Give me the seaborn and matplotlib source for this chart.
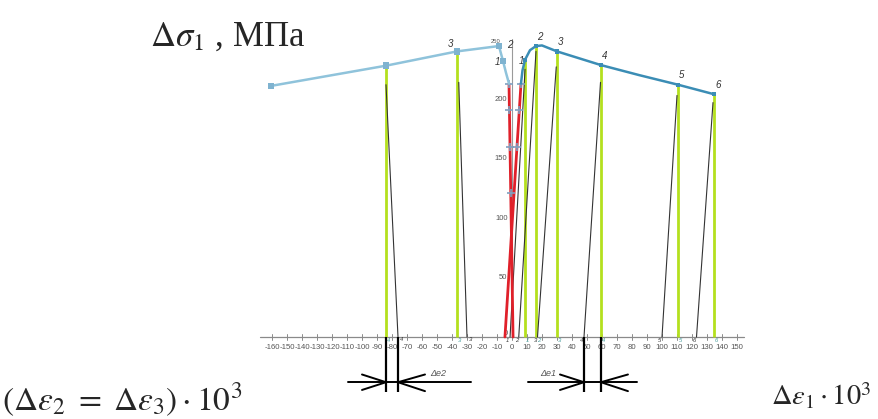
import numpy as np
import matplotlib
matplotlib.use("Agg")
import matplotlib.pyplot as plt
import seaborn as sns

# ---------------- data ----------------
# left branch of the loading curve: (Δε2=Δε3)·10^3 vs Δσ1
left_x = [-160.7, -84.0, -36.7, -8.7, -6.0, -4.0, -2.0]
left_y = [211, 228, 240, 244.5, 232, 222, 213]
left_lbl = ["", "4", "3", "2", "1", "", ""]

# right branch: Δε1·10^3 vs Δσ1
right_x = [6.0, 7.0, 8.7, 12.0, 16.0, 20.0, 30.0, 59.3, 85.0, 110.7, 134.7]
right_y = [213, 224, 233, 241, 244.5, 245, 240, 228.5, 220, 212, 204]
right_lbl = ["", "", "1", "", "2", "", "3", "4", "", "5", "6"]

# green verticals (loading points) and black unloading lines
green_left_x = [-84.0, -36.7]
green_left_top = [228, 240]
green_right_x = [8.7, 16.0, 30.0, 59.3, 110.7, 134.7]
green_right_top = [233, 244.5, 240, 228.5, 212, 204]
green_right_lbl = ["1", "2", "3", "4", "5", "6"]

unl_left_top_x = [-84.0, -35.5]
unl_left_top_y = [212, 214]
unl_left_bot_x = [-76.0, -30.0]
unl_left_lbl = ["4", "3"]

unl_right_top_x = [8.7, 16.0, 29.5, 59.0, 110.0, 134.0]
unl_right_top_y = [225, 240, 227, 214, 203, 197]
unl_right_bot_x = [-1.3, 4.5, 17.0, 48.0, 100.0, 123.0]
unl_right_lbl = ["1", "2", "3", "4", "5", "6"]

# red elastic lines
red_a = ([-2.0, 0.7], [213, 0])
red_b = ([6.0, -4.7], [213, 0])
red_marks_a = [213, 191, 160, 121]
red_marks_b = [213, 191, 160]

x_ticks = list(range(-160, 151, 10))
y_ticks = [0, 50, 100, 150, 200, 250]

# ---------------- figure ----------------
sns.set_theme(style="white")
plt.rcParams["font.family"] = ["Liberation Sans", "DejaVu Sans"]
plt.rcParams["mathtext.fontset"] = "stix"

fig = plt.figure(figsize=(8.79, 4.19), dpi=100)
ax = fig.add_axes([0, 0, 1, 1])
# px = 512 + 1.5*x ; py = 337 - 1.19*y
ax.set_xlim(-512 / 1.5, (879 - 512) / 1.5)
ax.set_ylim((337 - 419) / 1.19, 337 / 1.19)
ax.axis("off")

GREEN = "#B4E01E"
LBLUE = "#8FC3DB"
DBLUE = "#3B8DB5"
RED = "#E0202A"
DARK = "#333333"

# axes
ax.plot([-168, 155], [0, 0], color="#8a8a8a", lw=0.9, zorder=1)
ax.plot([0, 0], [0, 250], color="#9a9a9a", lw=0.8, zorder=1)
for t in x_ticks:
    ax.plot([t, t], [-2.5, 2.5], color="#8a8a8a", lw=0.7, zorder=1)
    ax.text(t, -9, str(t), ha="center", va="center", fontsize=5.6, color="#555555")
for t in y_ticks[1:-1]:
    ax.text(-3, t, str(t), ha="right", va="center", fontsize=5.5, color="#555555")
ax.text(-3, 3, "0", ha="right", va="center", fontsize=5.5, color="#555555")
ax.text(-11, 248, str(y_ticks[-1]), fontsize=4.2, color="#555555", ha="center", va="center")

# green verticals
ax.vlines(green_left_x, 0, green_left_top, color=GREEN, lw=2.0, zorder=2)
ax.vlines(green_right_x, 0, green_right_top, color=GREEN, lw=2.0, zorder=2)

# black unloading lines
for xt, yt, xb in zip(unl_left_top_x, unl_left_top_y, unl_left_bot_x):
    ax.plot([xt, xb], [yt, 0], color=DARK, lw=0.8, zorder=3)
for xt, yt, xb in zip(unl_right_top_x, unl_right_top_y, unl_right_bot_x):
    ax.plot([xt, xb], [yt, 0], color=DARK, lw=0.8, zorder=3)

# red lines with markers
for (xs, ys), marks in ((red_a, red_marks_a), (red_b, red_marks_b)):
    ax.plot(xs, ys, color=RED, lw=2.0, zorder=4)
    mx = np.interp(marks, ys[::-1], xs[::-1])
    ax.plot(mx, marks, "+", color="#7f9fc0", ms=6, mew=1.2, zorder=5)

# blue curves (seaborn)
sns.lineplot(x=left_x, y=left_y, sort=False, ax=ax, color=LBLUE, lw=1.8, zorder=6)
sns.lineplot(x=right_x, y=right_y, sort=False, ax=ax, color=DBLUE, lw=1.8, zorder=6)
mk_l = [i for i, l in enumerate(left_lbl) if l] + [0]
sns.scatterplot(x=[left_x[i] for i in mk_l], y=[left_y[i] for i in mk_l], ax=ax,
                marker="s", s=22, color="#7FB3D0", edgecolor="none", zorder=7)
mk_r = [i for i, l in enumerate(right_lbl) if l]
sns.scatterplot(x=[right_x[i] for i in mk_r], y=[right_y[i] for i in mk_r], ax=ax,
                marker="s", s=10, color=DBLUE, edgecolor="none", zorder=7)

# point labels
lab_kw = dict(fontsize=7, style="italic", color="#333333", ha="center", va="center")
for x, y, l in zip(left_x, left_y, left_lbl):
    if l == "3":
        ax.text(x - 4, y + 6, l, **lab_kw)
    elif l == "2":
        ax.text(x + 7, y + 1, l, **lab_kw)
    elif l == "1":
        ax.text(x - 4, y - 1, l, **lab_kw)
for x, y, l in zip(right_x, right_y, right_lbl):
    if l == "1":
        ax.text(x - 2.5, y - 1, l, **lab_kw)
    elif l:
        ax.text(x + 2.5, y + 8, l, **lab_kw)

# small labels at the feet of the lines
foot_kw = dict(fontsize=4.2, style="italic", ha="center", va="center")
for x, l in zip(green_left_x, unl_left_lbl):
    ax.text(x + 1.5, -3.2, l, color="#4aa0a0", **foot_kw)
for x, l in zip(unl_left_bot_x, unl_left_lbl):
    ax.text(x + 2.5, -2.2, l, color="#333333", **foot_kw)
for x, l in zip(green_right_x, green_right_lbl):
    ax.text(x + 1.5, -3.2, l, color="#4aa0a0", **foot_kw)
for x, l in zip(unl_right_bot_x, unl_right_lbl):
    ax.text(x - 1.5, -3.2, l, color="#333333", **foot_kw)

# dimension marks Δe2 and Δe1
def dimension(x1, x2, left_ext, right_ext, label, lab_x):
    yb, yh = -46, -38
    ax.vlines([x1, x2], yb, 0, color="black", lw=1.6, zorder=3)
    ax.plot([x1 - left_ext, x2 + right_ext], [yh, yh], color="black", lw=1.4)
    ax.plot([x1 - 16, x1, x1 - 16], [yh + 6.5, yh, yh - 6.5], color="black", lw=1.4)
    ax.plot([x2 + 18, x2, x2 + 18], [yh + 6.5, yh, yh - 7.5], color="black", lw=1.4)
    ax.text(lab_x, yh + 7, label, fontsize=6.5, style="italic", color="#555555",
            ha="center", va="center")

dimension(green_left_x[0], unl_left_bot_x[0], 25, 49, r"Δe2", -49)
dimension(unl_right_bot_x[3], green_right_x[3], 37, 24, r"Δe1", 24)

# big axis captions
serif = ["Liberation Serif", "DejaVu Serif"]
ax.text(-241, 252, r"$\Delta\sigma_1$ , МПа", fontsize=25, family=serif,
        ha="left", va="center")
ax.text(-340, -53, r"$(\Delta\varepsilon_2\ =\ \Delta\varepsilon_3)\cdot 10^3$",
        fontsize=24, family=serif, ha="left", va="center")
ax.text(173, -50, r"$\Delta\varepsilon_1 \cdot 10^3$", fontsize=20.5, family=serif,
        ha="left", va="center")

fig.savefig("out.png", dpi=100)
